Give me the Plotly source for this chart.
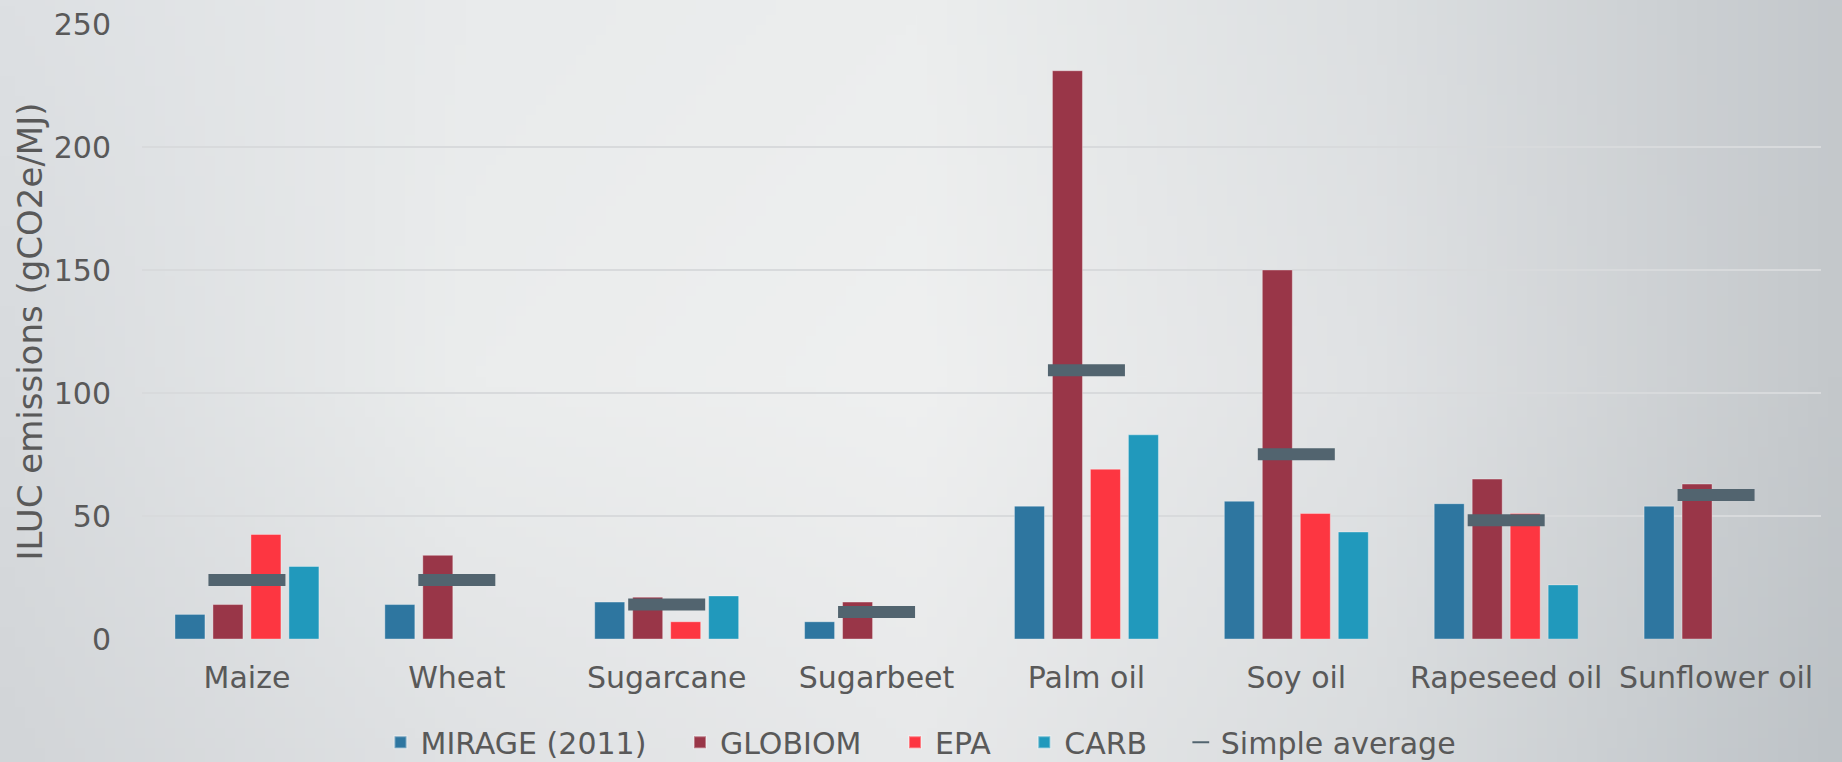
import base64
import struct
import zlib

import numpy as np
import plotly.graph_objects as go

# ---------------- data ----------------
categories = ["Maize", "Wheat", "Sugarcane", "Sugarbeet", "Palm oil", "Soy oil",
              "Rapeseed oil", "Sunflower oil"]
mirage = [10, 14, 15, 7, 54, 56, 55, 54]
globiom = [14, 34, 17, 15, 231, 150, 65, 63]
epa = [42.5, None, 7, None, 69, 51, 51, None]
carb = [29.5, None, 17.5, None, 83, 43.5, 22, None]
simple_average = [24, 24, 14, 11, 109.2, 75.1, 48.3, 58.5]

series_names = ["MIRAGE (2011)", "GLOBIOM", "EPA", "CARB"]
series_values = [mirage, globiom, epa, carb]
series_colors = ["#2e76a0", "#993648", "#fd3641", "#2199bc"]
avg_name = "Simple average"
avg_color = "#52646f"

y_title = "ILUC emissions (gCO2e/MJ)"

# ---------------- layout geometry ----------------
W, H = 1842, 762
ML, MR, MT, MB = 142, 21, 24, 123
PW, PH = W - ML - MR, H - MT - MB

FONT = "DejaVu Sans"
TXT = "#595959"
PAD = "\u00a0\u00a0\u00a0"  # extra spacing after legend labels

# ---------------- background gradient image ----------------
grid_cols = [0, 460, 920, 1380, 1842]
grid_rows = [0, 381, 762]
grid_hex = [
    ["#dde0e3", "#e9ebec", "#eceeee", "#dcdfe1", "#c4c8cc"],
    ["#d8dbde", "#ebeded", "#eff0f0", "#e0e2e4", "#c4c8cb"],
    ["#d2d5d8", "#e0e2e4", "#e8e9ea", "#d9dcde", "#bec3c7"],
]


def hex_rgb(h):
    h = h.lstrip("#")
    return [int(h[i:i + 2], 16) for i in (0, 2, 4)]


grid_rgb = np.array([[hex_rgb(c) for c in row] for row in grid_hex], dtype=float)
iw, ih = 184, 76
xs = np.linspace(0, W, iw)
ys = np.linspace(0, H, ih)
img = np.zeros((ih, iw, 3))
for ch in range(3):
    tmp = np.array([np.interp(xs, grid_cols, grid_rgb[r, :, ch]) for r in range(len(grid_rows))])
    for i in range(iw):
        img[:, i, ch] = np.interp(ys, grid_rows, tmp[:, i])
img = np.clip(img, 0, 255).astype(np.uint8)


def png_bytes(arr):
    h, w, _ = arr.shape
    raw = b"".join(b"\x00" + arr[r].tobytes() for r in range(h))

    def chunk(t, d):
        return struct.pack(">I", len(d)) + t + d + struct.pack(">I", zlib.crc32(t + d) & 0xFFFFFFFF)

    return (b"\x89PNG\r\n\x1a\n" + chunk(b"IHDR", struct.pack(">IIBBBBB", w, h, 8, 2, 0, 0, 0))
            + chunk(b"IDAT", zlib.compress(raw, 9)) + chunk(b"IEND", b""))


bg_uri = "data:image/png;base64," + base64.b64encode(png_bytes(img)).decode()

# ---------------- figure ----------------
fig = go.Figure()
for name, vals, col in zip(series_names, series_values, series_colors):
    fig.add_trace(go.Bar(
        x=categories, y=vals, name=name + PAD,
        marker=dict(color=col, line=dict(color="rgba(255,255,255,0.35)", width=1)),
    ))

fig.add_trace(go.Scatter(
    x=categories, y=simple_average, name=avg_name, mode="markers",
    marker=dict(symbol="line-ew", size=55, color=avg_color,
                line=dict(color=avg_color, width=12)),
))

fig.update_layout(
    width=W, height=H,
    margin=dict(l=ML, r=MR, t=MT, b=MB, autoexpand=False),
    paper_bgcolor="rgba(0,0,0,0)",
    plot_bgcolor="rgba(0,0,0,0)",
    barmode="group",
    bargap=0.276,
    bargroupgap=0.21,
    font=dict(family=FONT, size=30, color=TXT),
    showlegend=True,
    legend=dict(
        orientation="h", xref="container", yref="container",
        x=0.5, xanchor="center", y=0.026, yanchor="middle",
        font=dict(family=FONT, size=30, color=TXT),
        bgcolor="rgba(0,0,0,0)", itemsizing="constant",
    ),
    images=[dict(
        source=bg_uri, xref="paper", yref="paper",
        x=-ML / PW, y=1 + MT / PH, sizex=W / PW, sizey=H / PH,
        xanchor="left", yanchor="top", sizing="stretch", layer="below",
    )],
)

fig.update_xaxes(
    automargin=False, range=[-0.5, len(categories) - 0.5],
    showgrid=False, showline=False, zeroline=False, ticks="",
    tickfont=dict(family=FONT, size=30, color=TXT),
    ticklabelstandoff=18,
)
fig.update_yaxes(
    automargin=False,
    range=[0, 250], dtick=50, showgrid=True, gridcolor="#d8dadc", gridwidth=2,
    zeroline=False, showline=False, ticks="",
    tickfont=dict(family=FONT, size=30, color=TXT),
    ticklabelstandoff=30,
    title=dict(text=y_title + "\u00a0\u00a0", font=dict(family=FONT, size=34, color=TXT), standoff=0),
)

fig.write_html("out.html")
